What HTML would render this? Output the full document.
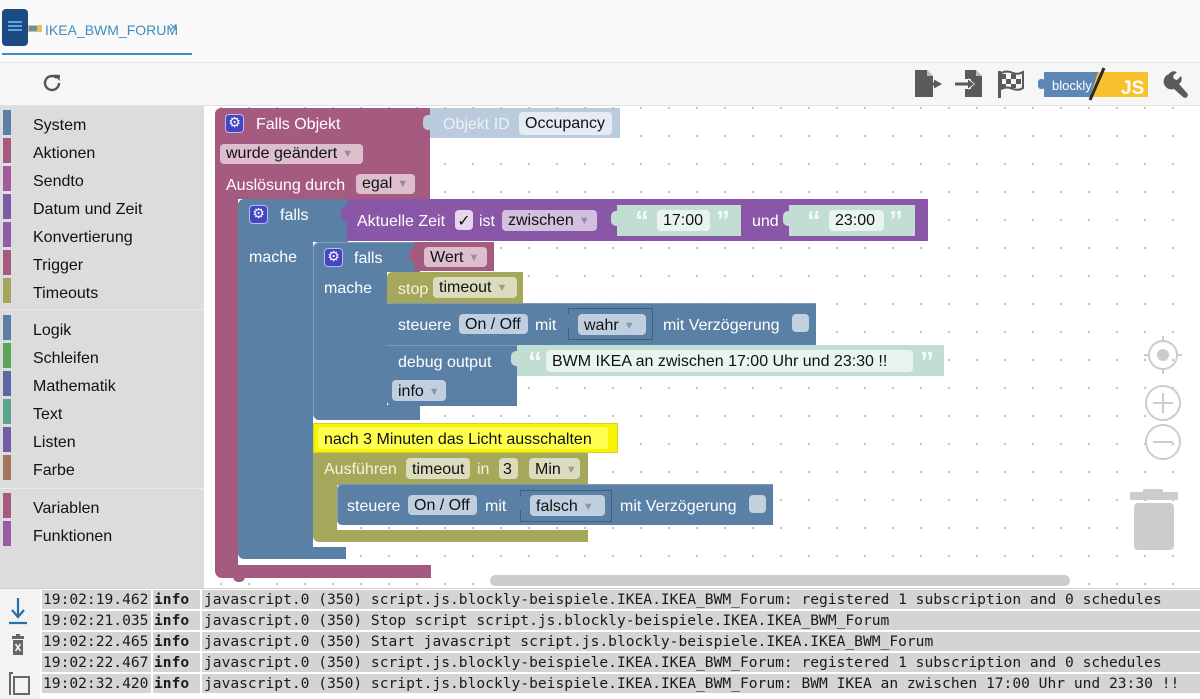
<!DOCTYPE html>
<html><head><meta charset="utf-8">
<style>
*{margin:0;padding:0;box-sizing:border-box}
html,body{width:1200px;height:699px;overflow:hidden;background:#f8f8f8;font-family:"Liberation Sans",Arial,sans-serif;position:relative}
.a{position:absolute}
.t{position:absolute;height:20px;line-height:24px;font-size:16px;color:#fff;white-space:nowrap}
.f{position:absolute;height:21px;line-height:21px;font-size:16px;color:#111;border-radius:4px;padding-left:6px;white-space:nowrap}
.ar{color:rgba(0,0,0,.28);font-size:11px;margin-left:5px;position:relative;top:-1px}
.side{position:absolute;left:33px;height:20px;line-height:24px;font-size:16px;color:#111}
.bar{position:absolute;left:3px;width:8px;height:25px}
.gear{position:absolute;width:19px;height:19px;background:#4444c4;border:1.5px solid #b8bcf0;border-radius:4px;color:#fff;font-family:"DejaVu Sans",sans-serif;font-size:14px;line-height:16px;text-align:center}
.row{position:absolute;left:42px;width:1158px;height:19px;background:#d4d4d4;font-family:"DejaVu Sans Mono",monospace;font-size:14.6px;line-height:20px;color:#1a1a1a;white-space:nowrap;display:flex}
.row .c1{width:111px;padding-left:1px;border-right:2px solid #fff}
.row .c2{width:49px;padding-left:1px;border-right:2px solid #fff;font-weight:bold}
.row .c3{padding-left:2px}
.q{position:absolute;color:#f3faf6;font-weight:bold;font-size:28px;line-height:28px;height:28px}
</style></head><body>

<!-- header -->
<div class="a" style="left:0;top:0;width:1200px;height:62px;background:#f9f9f9"></div>
<div class="a" style="left:0;top:62px;width:1200px;height:1px;background:#e4e4e4"></div>
<div class="a" style="left:0;top:63px;width:1200px;height:43px;background:#f6f6f6"></div>
<div class="a" style="left:0;top:105px;width:1200px;height:1px;background:#e2e2e2"></div>

<div class="a" style="left:2px;top:9px;width:26px;height:37px;background:#1b4b82;border-radius:4px"></div>
<div class="a" style="left:8px;top:21px;width:14px;height:2px;background:#5aa6dc"></div>
<div class="a" style="left:8px;top:25px;width:14px;height:2px;background:#5aa6dc"></div>
<div class="a" style="left:8px;top:29px;width:14px;height:2px;background:#5aa6dc"></div>
<div class="a" style="left:28px;top:25px;width:14px;height:7px;background:#d9c46a"></div>
<div class="a" style="left:29px;top:26px;width:8px;height:5px;background:#6a8db0"></div>
<div class="a" style="left:45px;top:20px;height:20px;line-height:20px;font-size:14px;color:#3d8ebf">IKEA_BWM_FORUM</div>
<div class="a" style="left:169px;top:18px;height:20px;line-height:20px;font-size:15px;color:#4a92c4">×</div>
<div class="a" style="left:2px;top:53px;width:190px;height:2px;background:#3b8fc4"></div>

<!-- refresh -->
<svg class="a" style="left:40px;top:71px" width="24" height="24" viewBox="0 0 24 24">
<path d="M19 12a7 7 0 1 1-2.1-5" fill="none" stroke="#555" stroke-width="2.4"/>
<path d="M14 3.5 L20 4 L19.5 10 Z" fill="#555"/>
</svg>

<!-- toolbar right icons -->
<svg class="a" style="left:910px;top:66px" width="285" height="36">
<path d="M5 4 H17 L23 10 V31 H5 Z" fill="#5a5a5a"/>
<path d="M17 4 V10 H23" fill="#bbb"/>
<rect x="18" y="16.5" width="9" height="3" fill="#f6f6f6"/>
<path d="M24 13.5 L32 18 L24 22.5 Z" fill="#5a5a5a"/>
<rect x="15" y="16.5" width="10" height="3" fill="#5a5a5a"/>
<path d="M55 4 H66 L72 10 V31 H55 Z" fill="#5a5a5a"/>
<path d="M66 4 V10 H72" fill="#bbb"/>
<rect x="45" y="16.5" width="14" height="3" fill="#5a5a5a"/>
<rect x="55" y="13" width="6" height="10" fill="#f6f6f6"/>
<rect x="52" y="16.5" width="8" height="3" fill="#5a5a5a"/>
<path d="M58 12 L65 18 L58 24 Z" fill="#f6f6f6"/>
<path d="M58 13.5 L64 18 L58 22.5 Z" fill="#5a5a5a"/>
<rect x="88" y="5" width="3" height="27" fill="#5a5a5a"/>
<path d="M91 7 Q97 4 103 7 Q108 9 113 6 V22 Q108 25 103 23 Q97 20 91 23 Z" fill="#f6f6f6" stroke="#5a5a5a" stroke-width="2"/>
<rect x="91" y="8" width="5" height="5" fill="#5a5a5a"/><rect x="101" y="8" width="5" height="5" fill="#5a5a5a"/>
<rect x="96" y="13" width="5" height="5" fill="#5a5a5a"/><rect x="106" y="13" width="5" height="5" fill="#5a5a5a"/>
<rect x="91" y="18" width="5" height="4" fill="#5a5a5a"/><rect x="101" y="18" width="5" height="4" fill="#5a5a5a"/>
<rect x="134" y="6" width="60" height="25" fill="#5b86b6"/>
<rect x="128" y="13" width="7" height="10" rx="3" fill="#5b86b6"/>
<path d="M188 6 H238 V31 H180 Z" fill="#f7c22e"/>
<text x="142" y="24" font-family="Liberation Sans" font-size="13" fill="#fff">blockly</text>
<text x="211" y="28" font-family="Liberation Sans" font-weight="bold" font-size="19" fill="#fff">JS</text>
<line x1="180" y1="34" x2="194" y2="2" stroke="#2a2a2a" stroke-width="3"/>
<path d="M259 8 a6 6 0 0 1 8-2 l-4 4 1 3 3 1 4-4 a6 6 0 0 1-2 8 l8 9 a2.5 2.5 0 0 1-4 4 l-9-8 a6 6 0 0 1-5-15z" fill="#5a5a5a"/>
</svg>

<!-- sidebar -->
<div class="a" style="left:0;top:106px;width:204px;height:482px;background:#dcdcdc"></div>
<div class="a" style="left:0;top:309px;width:204px;height:1px;background:#e9e9e9"></div>
<div class="a" style="left:0;top:488px;width:204px;height:1px;background:#e9e9e9"></div>

<div class="bar" style="top:110px;background:#5b80a5"></div><div class="side" style="top:114px">System</div>
<div class="bar" style="top:138px;background:#a55b80"></div><div class="side" style="top:142px">Aktionen</div>
<div class="bar" style="top:166px;background:#a5589c"></div><div class="side" style="top:170px">Sendto</div>
<div class="bar" style="top:194px;background:#7b5ba5"></div><div class="side" style="top:198px">Datum und Zeit</div>
<div class="bar" style="top:222px;background:#935ba5"></div><div class="side" style="top:226px">Konvertierung</div>
<div class="bar" style="top:250px;background:#a55b80"></div><div class="side" style="top:254px">Trigger</div>
<div class="bar" style="top:278px;background:#a5a55b"></div><div class="side" style="top:282px">Timeouts</div>
<div class="bar" style="top:315px;background:#5b80a5"></div><div class="side" style="top:319px">Logik</div>
<div class="bar" style="top:343px;background:#5ba55b"></div><div class="side" style="top:347px">Schleifen</div>
<div class="bar" style="top:371px;background:#5b67a5"></div><div class="side" style="top:375px">Mathematik</div>
<div class="bar" style="top:399px;background:#5ba58c"></div><div class="side" style="top:403px">Text</div>
<div class="bar" style="top:427px;background:#745ba5"></div><div class="side" style="top:431px">Listen</div>
<div class="bar" style="top:455px;background:#a5745b"></div><div class="side" style="top:459px">Farbe</div>
<div class="bar" style="top:493px;background:#a55b80"></div><div class="side" style="top:497px">Variablen</div>
<div class="bar" style="top:521px;background:#995ba5"></div><div class="side" style="top:525px">Funktionen</div>

<!-- workspace -->
<div class="a" style="left:204px;top:106px;width:996px;height:482px;background-color:#fff;background-image:radial-gradient(circle,#c4c4c4 1px,transparent 1.4px);background-size:28px 28px;background-position:3px -12px"></div>

<!-- scrollbar -->
<div class="a" style="left:490px;top:575px;width:580px;height:11px;background:#cdcdcd;border-radius:6px"></div>

<!-- right controls -->
<svg class="a" style="left:1125px;top:330px" width="75" height="230">
<circle cx="38" cy="25" r="14" fill="none" stroke="#ccc" stroke-width="2"/>
<circle cx="38" cy="25" r="6" fill="#ccc"/>
<line x1="38" y1="6" x2="38" y2="12" stroke="#ccc" stroke-width="2"/><line x1="38" y1="38" x2="38" y2="44" stroke="#ccc" stroke-width="2"/>
<line x1="19" y1="25" x2="25" y2="25" stroke="#ccc" stroke-width="2"/><line x1="51" y1="25" x2="57" y2="25" stroke="#ccc" stroke-width="2"/>
<circle cx="38" cy="73" r="17" fill="none" stroke="#ccc" stroke-width="2"/>
<line x1="28" y1="73" x2="48" y2="73" stroke="#ccc" stroke-width="2"/><line x1="38" y1="63" x2="38" y2="83" stroke="#ccc" stroke-width="2"/>
<circle cx="38" cy="112" r="17" fill="none" stroke="#ccc" stroke-width="2"/>
<line x1="28" y1="112" x2="48" y2="112" stroke="#ccc" stroke-width="2"/>
<rect x="18" y="159" width="20" height="5" rx="2" fill="#ccc"/>
<rect x="5" y="162" width="48" height="8" rx="2" fill="#ccc"/>
<rect x="9" y="173" width="40" height="47" rx="4" fill="#ccc"/>
</svg>

<!-- ===== BLOCKS ===== -->
<div class="a" style="left:215px;top:108px;width:215px;height:91px;background:#a55b80;border-radius:6px 0 0 0"></div>
<div class="a" style="left:215px;top:198px;width:23px;height:368px;background:#a55b80"></div>
<div class="a" style="left:215px;top:565px;width:216px;height:13px;background:#a55b80;border-radius:0 0 0 7px"></div>
<div class="a" style="left:233px;top:576px;width:12px;height:6px;background:#a55b80;border-radius:0 0 5px 5px"></div>
<div class="a" style="left:430px;top:108px;width:190px;height:30px;background:#b9cbdc"></div>
<div class="a" style="left:423px;top:115px;width:9px;height:15px;background:#b9cbdc;border-radius:5px 0 0 5px"></div>
<div class="t" style="left:443px;top:113px;color:#edf2f7">Objekt ID</div>
<div class="f" style="left:519px;top:112px;width:93px;height:23px;line-height:24px;background:#e4ebf2">Occupancy</div>

<div class="gear" style="left:225px;top:114px">⚙</div>
<div class="t" style="left:256px;top:113px">Falls Objekt</div>
<div class="f" style="left:220px;top:144px;width:143px;height:20px;line-height:20px;background:#dcbecd">wurde geändert<span class="ar">▼</span></div>
<div class="t" style="left:226px;top:174px">Auslösung durch</div>
<div class="f" style="left:356px;top:174px;width:59px;height:20px;line-height:20px;background:#dcbecd">egal<span class="ar">▼</span></div>

<div class="a" style="left:238px;top:199px;width:110px;height:43px;background:#5b80a5;border-radius:6px 0 0 0"></div>
<div class="a" style="left:238px;top:241px;width:75px;height:307px;background:#5b80a5"></div>
<div class="a" style="left:238px;top:547px;width:108px;height:12px;background:#5b80a5;border-radius:0 0 0 6px"></div>
<div class="gear" style="left:249px;top:205px">⚙</div>
<div class="t" style="left:280px;top:204px">falls</div>
<div class="t" style="left:249px;top:246px">mache</div>

<div class="a" style="left:347px;top:199px;width:581px;height:42px;background:#8a56a7"></div>
<div class="a" style="left:341px;top:206px;width:8px;height:15px;background:#8a56a7;border-radius:5px 0 0 5px"></div>
<div class="t" style="left:357px;top:210px">Aktuelle Zeit</div>
<div class="a" style="left:455px;top:210px;width:18px;height:20px;background:#e4d6ec;border-radius:4px;color:#111;font-size:16px;line-height:21px;text-align:center;font-family:'DejaVu Sans',sans-serif">✓</div>
<div class="t" style="left:479px;top:210px">ist</div>
<div class="f" style="left:502px;top:210px;width:95px;background:#d3c0de">zwischen<span class="ar">▼</span></div>
<div class="a" style="left:617px;top:205px;width:124px;height:31px;background:#c2ded2"></div>
<div class="a" style="left:611px;top:211px;width:8px;height:15px;background:#c2ded2;border-radius:5px 0 0 5px"></div>
<div class="q" style="left:635px;top:207px">“</div>
<div class="f" style="left:657px;top:210px;width:53px;background:#e9f3ef">17:00</div>
<div class="q" style="left:716px;top:207px">”</div>
<div class="t" style="left:752px;top:210px">und</div>
<div class="a" style="left:789px;top:205px;width:126px;height:31px;background:#c2ded2"></div>
<div class="a" style="left:783px;top:211px;width:8px;height:15px;background:#c2ded2;border-radius:5px 0 0 5px"></div>
<div class="q" style="left:807px;top:207px">“</div>
<div class="f" style="left:829px;top:210px;width:55px;background:#e9f3ef">23:00</div>
<div class="q" style="left:889px;top:207px">”</div>

<div class="a" style="left:313px;top:242px;width:107px;height:30px;background:#5b80a5;border-radius:6px 0 0 0;box-shadow:inset 1px 1px 0 #7d9bbb"></div>
<div class="a" style="left:313px;top:271px;width:74px;height:135px;background:#5b80a5;box-shadow:inset 1px 0 0 #7d9bbb"></div>
<div class="a" style="left:313px;top:405px;width:107px;height:15px;background:#5b80a5;border-radius:0 0 0 6px;box-shadow:inset 1px 0 0 #7d9bbb"></div>
<div class="gear" style="left:324px;top:248px">⚙</div>
<div class="t" style="left:354px;top:247px">falls</div>
<div class="t" style="left:324px;top:277px">mache</div>
<div class="a" style="left:414px;top:242px;width:80px;height:29px;background:#a55b80"></div>
<div class="a" style="left:409px;top:248px;width:7px;height:14px;background:#a55b80;border-radius:5px 0 0 5px"></div>
<div class="f" style="left:424px;top:247px;width:63px;height:20px;line-height:21px;background:#dcbecd">Wert<span class="ar">▼</span></div>

<div class="a" style="left:387px;top:272px;width:136px;height:31px;background:#a5a85b;border-radius:5px 0 0 0"></div>
<div class="t" style="left:398px;top:278px;color:#f4f4dc">stop</div>
<div class="f" style="left:433px;top:277px;width:84px;background:#dbdcbd">timeout<span class="ar">▼</span></div>

<div class="a" style="left:387px;top:303px;width:429px;height:42px;background:#5b80a5;box-shadow:inset 0 1px 0 #7d9bbb"></div>
<div class="t" style="left:398px;top:314px">steuere</div>
<div class="f" style="left:459px;top:314px;width:69px;height:20px;line-height:21px;background:#bfcfdf">On / Off</div>
<div class="t" style="left:535px;top:314px">mit</div>
<div class="a" style="left:568px;top:308px;width:85px;height:32px;background:#5b80a5;border:1px solid #3e5f83"></div>
<div class="a" style="left:563px;top:314px;width:7px;height:14px;background:#5b80a5;border-radius:5px 0 0 5px"></div>
<div class="f" style="left:578px;top:314px;width:68px;line-height:23px;background:#bfcfdf">wahr<span class="ar">▼</span></div>
<div class="t" style="left:663px;top:314px">mit Verzögerung</div>
<div class="a" style="left:792px;top:314px;width:17px;height:18px;background:#c3d1df;border-radius:4px"></div>

<div class="a" style="left:387px;top:345px;width:130px;height:61px;background:#5b80a5;box-shadow:inset 0 1px 0 #7d9bbb;border-radius:0 0 0 5px"></div>
<div class="t" style="left:398px;top:351px">debug output</div>
<div class="a" style="left:517px;top:345px;width:427px;height:31px;background:#c2ded2"></div>
<div class="a" style="left:511px;top:351px;width:8px;height:15px;background:#c2ded2;border-radius:5px 0 0 5px"></div>
<div class="q" style="left:528px;top:348px">“</div>
<div class="f" style="left:546px;top:350px;width:367px;height:22px;line-height:24px;background:#e9f3ef">BWM IKEA an zwischen 17:00 Uhr und 23:30 !!</div>
<div class="q" style="left:920px;top:348px">”</div>
<div class="f" style="left:392px;top:380px;width:54px;line-height:23px;background:#bfcfdf">info<span class="ar">▼</span></div>

<div class="a" style="left:313px;top:423px;width:305px;height:30px;background:#f8f400;border:1px solid #d8d030"></div>
<div class="a" style="left:318px;top:427px;width:290px;height:22px;background:#ffff50;border-radius:3px"></div>
<div class="t" style="left:324px;top:428px;color:#111">nach 3 Minuten das Licht ausschalten</div>

<div class="a" style="left:313px;top:453px;width:275px;height:32px;background:#a5a85b"></div>
<div class="a" style="left:313px;top:484px;width:24px;height:47px;background:#a5a85b"></div>
<div class="a" style="left:313px;top:530px;width:275px;height:12px;background:#a5a85b;border-radius:0 0 0 6px"></div>
<div class="t" style="left:324px;top:458px;color:#f4f4dc">Ausführen</div>
<div class="f" style="left:406px;top:458px;width:64px;line-height:23px;background:#dbdcbd">timeout</div>
<div class="t" style="left:477px;top:458px;color:#f4f4dc">in</div>
<div class="f" style="left:499px;top:458px;width:19px;line-height:23px;background:#dbdcbd;padding-left:4px">3</div>
<div class="f" style="left:529px;top:458px;width:51px;line-height:23px;background:#dbdcbd">Min<span class="ar">▼</span></div>

<div class="a" style="left:337px;top:484px;width:436px;height:41px;background:#5b80a5;border-radius:5px 0 0 5px;box-shadow:inset 1px 1px 0 #7d9bbb"></div>
<div class="t" style="left:347px;top:495px">steuere</div>
<div class="f" style="left:408px;top:495px;width:69px;height:20px;line-height:21px;background:#bfcfdf">On / Off</div>
<div class="t" style="left:485px;top:495px">mit</div>
<div class="a" style="left:520px;top:490px;width:92px;height:32px;background:#5b80a5;border:1px solid #3e5f83"></div>
<div class="a" style="left:515px;top:496px;width:7px;height:14px;background:#5b80a5;border-radius:5px 0 0 5px"></div>
<div class="f" style="left:530px;top:495px;width:75px;line-height:23px;background:#bfcfdf">falsch<span class="ar">▼</span></div>
<div class="t" style="left:620px;top:495px">mit Verzögerung</div>
<div class="a" style="left:749px;top:495px;width:17px;height:18px;background:#c3d1df;border-radius:4px"></div>

<!-- ===== LOG ===== -->
<div class="a" style="left:0;top:588px;width:1200px;height:111px;background:#fff;border-top:1px solid #d0d0d0"></div>
<div class="a" style="left:0;top:589px;width:40px;height:110px;background:#f3f3f3"></div>
<svg class="a" style="left:4px;top:596px" width="32" height="102">
<line x1="14" y1="2" x2="14" y2="20" stroke="#2a6ea6" stroke-width="2.2"/>
<path d="M8 14 L14 21 L20 14" fill="none" stroke="#2a6ea6" stroke-width="2.2"/>
<line x1="5" y1="27" x2="23" y2="27" stroke="#2a6ea6" stroke-width="2.2"/>
<rect x="8" y="40" width="12" height="3" fill="#666"/>
<rect x="12" y="38" width="4" height="3" fill="#666"/>
<rect x="9" y="44" width="10" height="15" fill="#666"/>
<path d="M11.5 48 L16.5 55 M16.5 48 L11.5 55" stroke="#f3f3f3" stroke-width="1.6"/>
<path d="M6 99 V77 H9" fill="none" stroke="#666" stroke-width="2"/>
<rect x="10" y="81" width="15" height="17" fill="none" stroke="#666" stroke-width="2"/>
</svg>

<div class="row" style="top:590px"><div class="c1">19:02:19.462</div><div class="c2">info</div><div class="c3">javascript.0 (350) script.js.blockly-beispiele.IKEA.IKEA_BWM_Forum: registered 1 subscription and 0 schedules</div></div>
<div class="row" style="top:611px"><div class="c1">19:02:21.035</div><div class="c2">info</div><div class="c3">javascript.0 (350) Stop script script.js.blockly-beispiele.IKEA.IKEA_BWM_Forum</div></div>
<div class="row" style="top:632px"><div class="c1">19:02:22.465</div><div class="c2">info</div><div class="c3">javascript.0 (350) Start javascript script.js.blockly-beispiele.IKEA.IKEA_BWM_Forum</div></div>
<div class="row" style="top:653px"><div class="c1">19:02:22.467</div><div class="c2">info</div><div class="c3">javascript.0 (350) script.js.blockly-beispiele.IKEA.IKEA_BWM_Forum: registered 1 subscription and 0 schedules</div></div>
<div class="row" style="top:674px"><div class="c1">19:02:32.420</div><div class="c2">info</div><div class="c3">javascript.0 (350) script.js.blockly-beispiele.IKEA.IKEA_BWM_Forum: BWM IKEA an zwischen 17:00 Uhr und 23:30 !!</div></div>

</body></html>
